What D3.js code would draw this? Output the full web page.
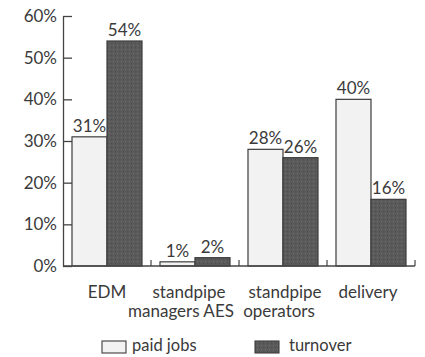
<!DOCTYPE html>
<html>
<head>
<meta charset="utf-8">
<script src="https://cdn.jsdelivr.net/npm/d3@7"></script>
<style>
  html, body { margin: 0; padding: 0; background: #fff; }
  svg text { font-family: "Lato", "DejaVu Sans", sans-serif; fill: #3a3a3a; }
</style>
</head>
<body>
<svg id="chart" width="425" height="357"></svg>
<script>
// Share of paid jobs and turnover by activity
const categories = [["EDM"], ["standpipe", "managers AES"], ["standpipe", "operators"], ["delivery"]];
const paidJobs = [31, 1, 28, 40];
const turnover = [54, 2, 26, 16];
const seriesNames = ["paid jobs", "turnover"];
const yTicks = [0, 10, 20, 30, 40, 50, 60];

// horizontal nudges (px) for each category label line, so the
// two-line labels in neighbouring columns don't run into each other
const labelNudge = [[0], [-6, -14], [2, -4], [-3]];

const svg = d3.select("#chart");

// texture for the dark series
const defs = svg.append("defs");
const pat = defs.append("pattern").attr("id", "dots").attr("patternUnits", "userSpaceOnUse")
  .attr("width", 4).attr("height", 4);
pat.append("rect").attr("width", 4).attr("height", 4).attr("fill", "#5a5a5a");
pat.append("rect").attr("x", 1).attr("y", 1).attr("width", 1).attr("height", 1).attr("fill", "#6e6e6e");
pat.append("rect").attr("x", 3).attr("y", 3).attr("width", 1).attr("height", 1).attr("fill", "#4c4c4c");

const plot = { left: 63, right: 415, top: 16, bottom: 266 };

const x = d3.scaleBand().domain(d3.range(categories.length)).range([plot.left, plot.right]).paddingInner(0).paddingOuter(0);
const inner = d3.scaleBand().domain([0, 1]).range([0, x.bandwidth()]).paddingOuter(0.257).paddingInner(0);
const y = d3.scaleLinear().domain([0, 60]).range([plot.bottom, plot.top]);

// y axis with inward ticks
const yAxis = svg.append("g").attr("transform", `translate(${plot.left},0)`)
  .call(d3.axisLeft(y).tickValues(yTicks).tickFormat(d => d + "%").tickSize(-9).tickSizeOuter(0).tickPadding(6));
yAxis.select(".domain").attr("stroke", "#444").attr("stroke-width", 1.3);
yAxis.selectAll(".tick line").attr("stroke", "#444").attr("stroke-width", 1.3);
yAxis.selectAll(".tick text").attr("font-size", 17).attr("fill", "#3a3a3a")
  .attr("font-family", "Lato, 'DejaVu Sans', sans-serif");

// bars
const series = [paidJobs, turnover];
const fills = ["#f2f2f2", "url(#dots)"];
series.forEach((vals, s) => {
  const g = svg.append("g");
  g.selectAll("rect").data(vals).join("rect")
    .attr("x", (d, i) => x(i) + inner(s))
    .attr("y", d => y(d))
    .attr("width", inner.bandwidth())
    .attr("height", d => y(0) - y(d))
    .attr("fill", fills[s])
    .attr("stroke", "#3c3c3c")
    .attr("stroke-width", 1.2);
  g.selectAll("text").data(vals).join("text")
    .attr("x", (d, i) => x(i) + inner(s) + inner.bandwidth() / 2)
    .attr("y", d => y(d) - 5)
    .attr("text-anchor", "middle")
    .attr("font-size", 17)
    .text(d => d + "%");
});

// x baseline with small upward ticks at category boundaries
svg.append("line").attr("x1", plot.left).attr("x2", plot.right).attr("y1", y(0)).attr("y2", y(0))
  .attr("stroke", "#444").attr("stroke-width", 1.3);
svg.append("g").selectAll("line").data(d3.range(1, categories.length + 1)).join("line")
  .attr("x1", i => x.step() * i + plot.left).attr("x2", i => x.step() * i + plot.left)
  .attr("y1", y(0)).attr("y2", y(0) - 6)
  .attr("stroke", "#444").attr("stroke-width", 1.2);

// category labels
const cat = svg.append("g");
categories.forEach((lines, i) => {
  const cx = x(i) + x.bandwidth() / 2;
  const t = cat.append("text")
    .attr("x", cx)
    .attr("y", 298)
    .attr("text-anchor", "middle")
    .attr("font-size", 17);
  lines.forEach((ln, k) => {
    t.append("tspan").attr("x", cx + labelNudge[i][k]).attr("dy", k === 0 ? 0 : 19).text(ln);
  });
});

// legend
const legendX = [102, 255];
const legend = svg.append("g");
seriesNames.forEach((name, s) => {
  legend.append("rect").attr("x", legendX[s]).attr("y", 341).attr("width", 24).attr("height", 12)
    .attr("fill", fills[s]).attr("stroke", "#3c3c3c").attr("stroke-width", 1.1);
  legend.append("text").attr("x", legendX[s] + (s === 0 ? 30 : 34)).attr("y", 351)
    .attr("font-size", 16.5).text(name);
});
</script>
</body>
</html>
